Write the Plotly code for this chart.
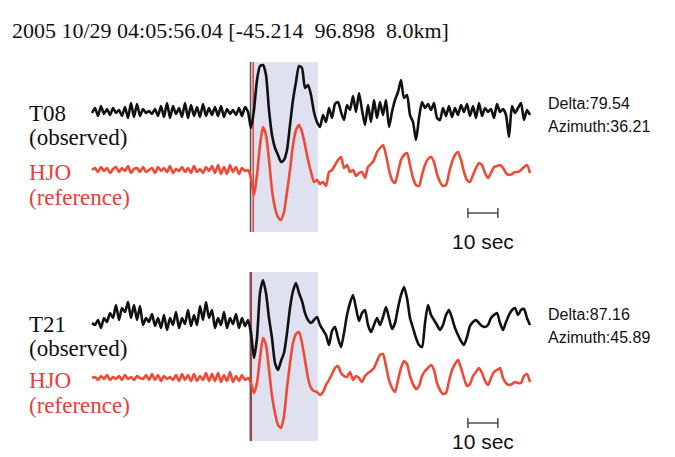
import plotly.graph_objects as go

# ---------------- data ----------------
DT = 1.0  # seconds per sample

t08_obs_pre = [-1,4,-4,6,-2,3,-3,4,-1,2, -4,5,-6,9,-5,8,-4,3,-1,1, -2,3,-4,6,-5,9,-6,6,-2,4,
               -5,9,-6,7,-4,5,-5,8,-4,4, -3,5,-4,6,-5,3,-2,2,-3,4, -4,5,0]
t08_obs_post = [-16,2,32,46,47,37,2,-23,-36,-43, -50,-48,-38,-13,12,30,46,44,24,27,
                17,0,-10,-15,-3,-10,4,-6,8,10, 0,-8,7,2,16,0,19,2,-13,7,
                -10,12,-6,10,-3,12,-15,0,12,20, 32,14,17,-3,-10,-28,-6,10,4,8,
                2,9,-6,-8,4,-4,6,-5,4,-3, 7,0,8,-4,6,-6,9,-4,4,0,
                3,-6,8,0,3,-3,-25,6,-1,4, 9,-8,2,-3]

hjo1_pre = [0,2,-2,3,-1,2,-3,1,3,-2, 2,-1,4,-3,1,2,-2,3,-2,0, 2,-3,3,-1,2,-2,4,-3,1,-1,
            3,-2,2,-3,4,-2,1,-3,3,-1, 4,-3,5,-4,3,-4,5,-2,3,-4, 2,-1,0]
hjo1_post = [-8,-25,-5,25,43,35,10,-20,-38,-47, -50,-42,-22,0,25,40,45,38,25,10,
             -2,-12,-10,-14,-12,-16,-2,0,5,10, 13,2,5,-2,0,-6,-3,-2,-8,3,
             6,10,18,22,25,15,0,-10,-13,-2, 10,15,17,5,-8,-15,-16,-5,5,11,
             13,8,-4,-12,-16,-15,-3,8,15,18, 10,-2,-10,-12,-5,2,7,5,-3,-8,
             -3,3,4,5,2,-3,-5,-4,-2,-2, 0,3,5,-3]

t21_obs_pre = [0,-2,3,-5,5,1,10,5,18,3, 15,11,21,5,18,3,17,-2,5,1, 9,-3,5,-5,8,-7,5,-2,11,-5,
               5,-1,13,-3,8,-2,17,3,21,5, 13,-5,5,-2,11,-5,5,-1,9,-5, 5,-3,3]
t21_obs_post = [-10,-35,-15,30,43,30,5,-15,-40,-47, -38,-30,-10,15,32,40,30,22,10,3,
                0,3,6,-2,-7,-12,-22,-8,-4,-15, -24,-10,8,20,28,15,2,10,13,-2,
                -9,-2,5,-2,6,16,5,-6,0,15, 28,36,25,5,-5,-15,-22,-24,0,18,
                8,3,-2,-7,-2,8,13,5,-5,-12, -18,-22,-14,-3,1,3,0,-3,-4,-2,
                5,8,10,0,-7,1,8,13,15,8, 13,14,5,-2]

hjo2_pre = [0,1,-2,2,-1,3,-2,1,-1,2, -2,3,-1,1,-2,2,0,-1,3,-2, 4,-2,3,-3,2,-1,1,-2,3,-3,
            4,-2,3,-3,4,-3,2,-2,5,-3, 4,-3,5,-4,3,-3,6,-4,2,-3, 3,-2,0]
hjo2_post = [-5,-15,-5,20,40,33,8,-18,-35,-47, -50,-38,-10,15,35,44,46,35,18,0,
             -10,-13,-14,-17,-14,-7,-2,4,10,12, 5,2,1,6,-2,2,0,-4,2,5,
             7,10,17,23,24,12,-2,-10,-14,-2, 10,17,14,2,-6,-11,-8,2,7,10,
             13,8,-5,-12,-16,-15,-3,8,14,18, 10,0,-8,-6,2,6,10,5,-3,-7,
             0,6,8,10,0,-5,-7,-6,-4,-5, -5,2,4,-4]

stations = [
    {"obs": "T08", "ref": "HJO", "obs_amp": t08_obs_pre + t08_obs_post,
     "ref_amp": hjo1_pre + hjo1_post, "delta": "79.54", "azimuth": "36.21"},
    {"obs": "T21", "ref": "HJO", "obs_amp": t21_obs_pre + t21_obs_post,
     "ref_amp": hjo2_pre + hjo2_post, "delta": "87.16", "azimuth": "45.89"},
]
for s in stations:
    assert len(s["obs_amp"]) == len(s["ref_amp"]) == 147, (len(s["obs_amp"]), len(s["ref_amp"]))

window_start, window_end = 52.7, 75.3   # seconds, shaded analysis window
scale_bar = (125.3, 135.3)              # 10 sec

# --------------- layout constants (pixel frame -> axis units) ---------------
W, H = 675, 457
X0 = 92.0      # px at t=0
PXS = 3.0      # px per second
def tx(px):
    return (px - X0) / PXS

panel = [
    {"obs_base": 112, "ref_base": 170, "box": (62, 232), "bar_y": 213, "lbl_y": 241,
     "info_y": (103, 126), "lines": [("#555555", 250.5), ("#e8403a", 253.2)]},
    {"obs_base": 323, "ref_base": 378, "box": (272, 441), "bar_y": 423, "lbl_y": 441,
     "info_y": (314, 337), "lines": [("#555555", 250.3), ("#b0403a", 251.3)]},
]

fig = go.Figure()
shapes = []
annotations = []
times = [i * DT for i in range(147)]
serif = "Liberation Serif, Times New Roman, serif"
sans = "Liberation Sans, Arial, sans-serif"

for s, p in zip(stations, panel):
    shapes.append(dict(type="rect", xref="x", yref="y", x0=window_start, x1=window_end,
                       y0=-p["box"][0], y1=-p["box"][1], fillcolor="#dfe1f0",
                       line=dict(width=0), layer="below"))
    for col, px in p["lines"]:
        shapes.append(dict(type="line", xref="x", yref="y", x0=tx(px), x1=tx(px),
                           y0=-p["box"][0], y1=-p["box"][1], line=dict(color=col, width=1.5),
                           layer="below"))
    fig.add_trace(go.Scatter(x=times, y=[a - p["obs_base"] for a in s["obs_amp"]],
                             mode="lines", line=dict(color="#111111", width=2.6, shape="spline",
                                                     smoothing=0.6),
                             showlegend=False, hoverinfo="skip"))
    fig.add_trace(go.Scatter(x=times, y=[a - p["ref_base"] for a in s["ref_amp"]],
                             mode="lines", line=dict(color="#ee4a36", width=2.6, shape="spline",
                                                     smoothing=0.6),
                             showlegend=False, hoverinfo="skip"))
    yb = -p["bar_y"]
    fig.add_trace(go.Scatter(x=[scale_bar[0], scale_bar[1]], y=[yb, yb], mode="lines",
                             line=dict(color="#333333", width=1.3), showlegend=False,
                             hoverinfo="skip"))
    for xb in scale_bar:
        shapes.append(dict(type="line", xref="x", yref="y", x0=xb, x1=xb, y0=yb - 5, y1=yb + 5,
                           line=dict(color="#333333", width=1.3)))
    annotations.append(dict(x=(scale_bar[0] + scale_bar[1]) / 2, y=-p["lbl_y"], xref="x", yref="y",
                            text="10 sec", showarrow=False,
                            font=dict(family=sans, size=21, color="#111111")))
    annotations.append(dict(x=tx(27), y=-(p["obs_base"] + 1), xref="x", yref="y", xanchor="left",
                            text=s["obs"], showarrow=False, font=dict(family=serif, size=23, color="#111111")))
    annotations.append(dict(x=tx(27), y=-(p["obs_base"] + 25), xref="x", yref="y", xanchor="left",
                            text="(observed)", showarrow=False, font=dict(family=serif, size=23, color="#111111")))
    annotations.append(dict(x=tx(27), y=-(p["ref_base"] + 2), xref="x", yref="y", xanchor="left",
                            text=s["ref"], showarrow=False, font=dict(family=serif, size=23, color="#e8403a")))
    annotations.append(dict(x=tx(27), y=-(p["ref_base"] + 27), xref="x", yref="y", xanchor="left",
                            text="(reference)", showarrow=False, font=dict(family=serif, size=23, color="#e8403a")))
    annotations.append(dict(x=tx(546), y=-p["info_y"][0], xref="x", yref="y", xanchor="left",
                            text="Delta:" + s["delta"], showarrow=False,
                            font=dict(family=sans, size=16, color="#111111")))
    annotations.append(dict(x=tx(546), y=-p["info_y"][1], xref="x", yref="y", xanchor="left",
                            text="Azimuth:" + s["azimuth"], showarrow=False,
                            font=dict(family=sans, size=16, color="#111111")))

annotations.append(dict(x=tx(10), y=-30, xref="x", yref="y", xanchor="left",
                        text="2005 10/29 04:05:56.04 [-45.214&nbsp;&nbsp;96.898&nbsp;&nbsp;8.0km]",
                        showarrow=False,
                        font=dict(family=serif, size=22, color="#111111")))

fig.update_layout(
    width=W, height=H, margin=dict(l=0, r=0, t=0, b=0),
    paper_bgcolor="white", plot_bgcolor="white",
    xaxis=dict(range=[tx(0), tx(W)], visible=False, fixedrange=True),
    yaxis=dict(range=[-H, 0], visible=False, fixedrange=True),
    shapes=shapes, annotations=annotations,
)
fig.write_html("out.html", config={"displayModeBar": False},
               post_script="document.body.style.margin='0';document.body.style.overflow='hidden';")
